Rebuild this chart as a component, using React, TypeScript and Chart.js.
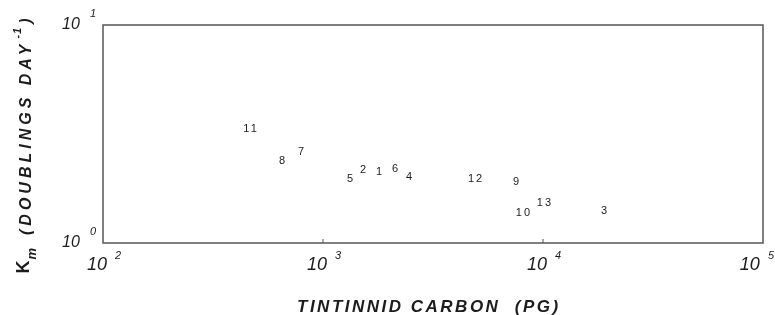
import React, { useEffect, useRef } from "react";
import { Chart, registerables } from "chart.js";

Chart.register(...registerables);

const pointIds = ["11", "8", "7", "5", "2", "1", "6", "4", "12", "9", "10", "13", "3"];
const carbonPg = [466, 651, 794, 1327, 1520, 1798, 2124, 2460, 4909, 7534, 8110, 10100, 18930];
const kmValues = [3.33, 2.38, 2.61, 1.97, 2.16, 2.12, 2.19, 2.01, 1.97, 1.9, 1.37, 1.53, 1.4];
const xTicks = [100, 1000, 10000, 100000];
const xTickExp = ["2", "3", "4", "5"];
const yTicks = [1, 10];
const yTickExp = ["0", "1"];
const xTitle = "TINTINNID CARBON  (PG)";

const INK = "#1c1c1c";
const FAM = "'Liberation Sans', Arial, sans-serif";

const drawPlugin = {
  id: "paperDraw",
  afterDraw(chart: any) {
    const ctx: CanvasRenderingContext2D = chart.ctx;
    const { left, right, top, bottom } = chart.chartArea;
    const xs = chart.scales.x;
    const ys = chart.scales.y;
    ctx.save();
    // frame
    ctx.strokeStyle = "#555";
    ctx.lineWidth = 1.5;
    ctx.strokeRect(left, top, right - left, bottom - top);
    // inner tick marks
    ctx.lineWidth = 1;
    xTicks.slice(1, -1).forEach((v) => {
      const px = xs.getPixelForValue(v);
      ctx.beginPath();
      ctx.moveTo(px, bottom);
      ctx.lineTo(px, bottom - 4);
      ctx.stroke();
    });
    ctx.fillStyle = INK;
    (ctx as any).letterSpacing = "0px";
    // x tick labels
    xTicks.forEach((v, i) => {
      const px = xs.getPixelForValue(v);
      ctx.font = `italic 18px ${FAM}`;
      const w1 = ctx.measureText("10").width;
      ctx.font = `italic 11px ${FAM}`;
      const w2 = ctx.measureText(xTickExp[i]).width;
      const gap = 8;
      const total = w1 + gap + w2;
      let x0 = px - total / 2 + 1;
      if (x0 + total > 774) x0 = 774 - total;
      ctx.textAlign = "left";
      ctx.textBaseline = "alphabetic";
      ctx.font = `italic 18px ${FAM}`;
      ctx.fillText("10", x0, 270);
      ctx.font = `italic 11px ${FAM}`;
      ctx.fillText(xTickExp[i], x0 + w1 + gap, 259);
    });
    // y tick labels
    yTicks.forEach((v, i) => {
      const py = ys.getPixelForValue(v);
      ctx.textAlign = "left";
      ctx.textBaseline = "alphabetic";
      ctx.font = `italic 16px ${FAM}`;
      ctx.fillText("10", 62, py + 4);
      ctx.font = `italic 11px ${FAM}`;
      ctx.fillText(yTickExp[i], 90, py - 8);
    });
    // x title
    ctx.font = `italic bold 17px ${FAM}`;
    (ctx as any).letterSpacing = "2.5px";
    ctx.textAlign = "left";
    ctx.textBaseline = "alphabetic";
    ctx.fillText(xTitle, 297, 312);

    // y title (rotated)
    ctx.save();
    ctx.translate(31, 146);
    ctx.rotate(-Math.PI / 2);
    ctx.textAlign = "left";
    ctx.textBaseline = "alphabetic";
    const parts: { t: string; font: string; dy: number; ls: number; pad: number }[] = [
      { t: "K", font: `bold 18px ${FAM}`, dy: -2, ls: 0, pad: 1 },
      { t: "m", font: `italic bold 13px ${FAM}`, dy: 5, ls: 0, pad: 13 },
      { t: "(DOUBLINGS DAY", font: `italic bold 16px ${FAM}`, dy: 0, ls: 4, pad: 2 },
      { t: "-1", font: `italic bold 11px ${FAM}`, dy: -10, ls: 1, pad: 3 },
      { t: ")", font: `italic bold 16px ${FAM}`, dy: 0, ls: 0, pad: 0 },
    ];
    let total = 0;
    parts.forEach((p) => {
      ctx.font = p.font;
      (ctx as any).letterSpacing = p.ls + "px";
      total += ctx.measureText(p.t).width + p.pad;
    });
    let cx = -total / 2;
    parts.forEach((p) => {
      ctx.font = p.font;
      (ctx as any).letterSpacing = p.ls + "px";
      ctx.fillText(p.t, cx, p.dy);
      cx += ctx.measureText(p.t).width + p.pad;
    });
    ctx.restore();

    // point labels
    const meta = chart.getDatasetMeta(0);
    ctx.font = `11px ${FAM}`;
    (ctx as any).letterSpacing = "2px";
    ctx.textAlign = "center";
    ctx.textBaseline = "middle";
    meta.data.forEach((el: any, i: number) => {
      ctx.fillText(pointIds[i], el.x + 1, el.y);
    });
    ctx.restore();
  },
};

export default function App() {
  const ref = useRef<HTMLCanvasElement | null>(null);
  useEffect(() => {
    if (!ref.current) return;
    const chart = new Chart(ref.current, {
      type: "scatter",
      data: {
        datasets: [
          {
            label: "Km",
            data: carbonPg.map((x, i) => ({ x, y: kmValues[i] })),
            pointRadius: 0,
            pointHoverRadius: 0,
            showLine: false,
          },
        ],
      },
      options: {
        animation: false,
        responsive: true,
        maintainAspectRatio: false,
        layout: { padding: { top: 25, right: 12, left: 0, bottom: 0 } },
        plugins: { legend: { display: false }, tooltip: { enabled: false } },
        scales: {
          x: {
            type: "logarithmic",
            min: 100,
            max: 100000,
            ticks: { display: false },
            grid: { display: false },
            border: { display: false },
            afterFit: (s: any) => {
              s.height = 72;
            },
          },
          y: {
            type: "logarithmic",
            min: 1,
            max: 10,
            ticks: { display: false },
            grid: { display: false },
            border: { display: false },
            afterFit: (s: any) => {
              s.width = 103;
            },
          },
        },
      },
      plugins: [drawPlugin],
    } as any);
    return () => chart.destroy();
  }, []);
  return (
    <div style={{ position: "fixed", left: 0, top: 0, width: 775, height: 315, background: "#fff" }}>
      <canvas ref={ref} />
    </div>
  );
}
